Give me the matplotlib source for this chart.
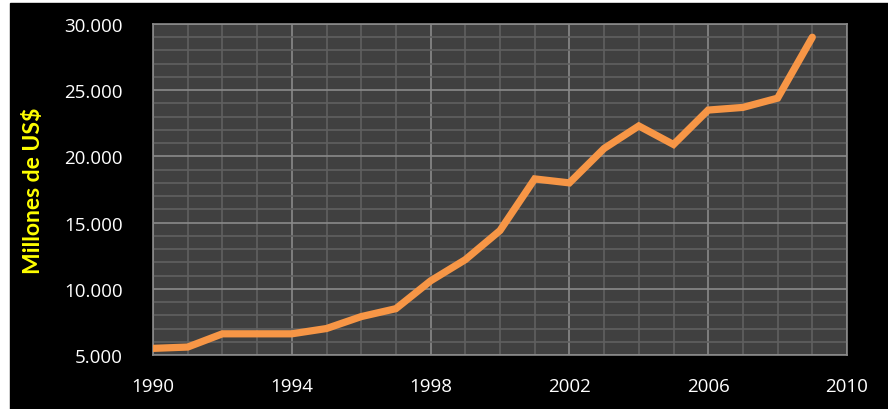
import numpy as np
import matplotlib.pyplot as plt
from matplotlib.ticker import FuncFormatter, MultipleLocator
from matplotlib.patches import Rectangle

years = list(range(1990, 2010))
valores = [5500, 5600, 6600, 6600, 6600, 7000, 7900, 8500, 10600, 12200,
           14400, 18300, 18000, 20600, 22300, 20900, 23500, 23700, 24400, 29000]
x_ticks = [1990, 1994, 1998, 2002, 2006, 2010]
y_ticks = [5000, 10000, 15000, 20000, 25000, 30000]

W, H = 888, 410
fig = plt.figure(figsize=(W / 100, H / 100), dpi=100, facecolor="white")
# black backdrop, white border left/top
fig.patches.append(Rectangle((10 / W, 0), 1 - 10 / W, 1 - 4 / H,
                             transform=fig.transFigure, color="black", zorder=-10))

ax = fig.add_axes([153 / W, 1 - 356 / H, (847 - 153) / W, (356 - 25) / H])
ax.set_facecolor("#404040")

ax.plot(years, valores, color="#F79646", lw=5.2, solid_capstyle="round",
        solid_joinstyle="miter", zorder=3)

ax.set_xlim(1990, 2010)
ax.set_ylim(5000, 30000)
ax.set_xticks(x_ticks)
ax.set_yticks(y_ticks)
ax.xaxis.set_minor_locator(MultipleLocator(1))
ax.yaxis.set_minor_locator(MultipleLocator(1000))
ax.yaxis.set_major_formatter(FuncFormatter(lambda v, p: f"{int(v):,}".replace(",", ".")))

ax.grid(which="major", color="#8a8a8a", lw=1.2, zorder=1)
ax.grid(which="minor", color="#606060", lw=1.2, zorder=1)
ax.set_axisbelow(True)

for s in ax.spines.values():
    s.set_color("#8a8a8a")
    s.set_linewidth(1.2)

ax.tick_params(which="both", length=0, colors="white", labelsize=13.5)
ax.tick_params(axis="y", pad=22)
ax.tick_params(axis="x", pad=16)
for lab in ax.get_xticklabels() + ax.get_yticklabels():
    lab.set_family(["Open Sans", "DejaVu Sans"])

ax.set_ylabel("Millones de US$", color="#FFFF00", fontsize=16.5, fontweight="bold",
              family=["Lato", "DejaVu Sans"], labelpad=14)

fig.savefig("out.png", dpi=100, facecolor="white")
